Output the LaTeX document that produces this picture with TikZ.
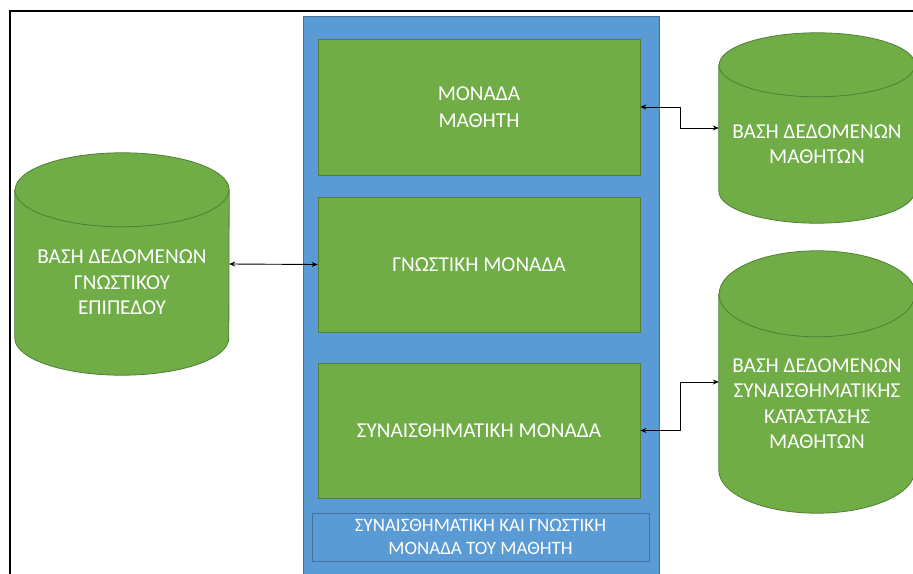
\documentclass[tikz,border=0pt]{standalone}
\usepackage{fontspec}
\setmainfont{Carlito}
\usepackage{xcolor}
\usepackage{tikz}
\usetikzlibrary{shapes}
\usetikzlibrary{arrows.meta}
\usetikzlibrary{positioning}

\definecolor{greenfill}{RGB}{112,173,71}
\definecolor{greenline}{RGB}{80,126,50}
\definecolor{bluefill}{RGB}{91,155,213}
\definecolor{blueline}{RGB}{65,113,156}

% database can drawn round a named (empty) node: name, x radius, y radius
\newcommand{\dbcan}[3]{%
  \filldraw[canline] ([yshift=-#3bp]#1.north west) -- ([yshift=#3bp]#1.south west)
    arc[start angle=180,end angle=360,x radius=#2bp,y radius=#3bp]
    -- ([yshift=-#3bp]#1.north east)
    arc[start angle=0,end angle=180,x radius=#2bp,y radius=#3bp] -- cycle;
  \draw[canline] ([yshift=-#3bp]#1.north west)
    arc[start angle=180,end angle=360,x radius=#2bp,y radius=#3bp];}

\begin{document}
\begin{tikzpicture}[
	x=1bp, y=-1bp,
	font=\fontsize{21.3}{27}\selectfont
]
\tikzset{
    mybox/.style = {rectangle, draw=greenline, fill=greenfill, text=white, align=center, inner sep=0pt, line width=0.8bp},
    mycan/.style = {rectangle, inner sep=0pt},
    canline/.style = {draw=greenline, fill=greenfill, line width=0.8bp},
    cantext/.style = {text=white, align=center, inner sep=0pt, font=\fontsize{21.3}{25.5}\selectfont},
    myarrow/.style = {{Stealth[length=6bp,width=5bp]}-{Stealth[length=6bp,width=5bp]}, line width=0.9bp, black}
}
\useasboundingbox (0,0) rectangle (913,574);
\clip (0,0) rectangle (913,574);
% frame
\draw[line width=2.5bp] (10,580) -- (10,11) -- (920,11);
% panel
\node[rectangle, draw=blueline, fill=bluefill, minimum width=356bp, minimum height=570bp, anchor=north west] (panel) at (303,16) {};
\node[mybox, minimum width=322bp, minimum height=136bp] (mathitis) at (479,107) {ΜΟΝΑΔΑ\\ΜΑΘΗΤΗ};
\node[mybox, minimum width=322bp, minimum height=135bp] (gnostiki) at (479,264.5) {ΓΝΩΣΤΙΚΗ ΜΟΝΑΔΑ};
\node[mybox, minimum width=322bp, minimum height=135bp] (synais) at (479,430.5) {ΣΥΝΑΙΣΘΗΜΑΤΙΚΗ ΜΟΝΑΔΑ};
\node[rectangle, draw=blueline, fill=bluefill, text=white, align=center, minimum width=337bp, minimum height=48bp, font=\fontsize{19}{22.3}\selectfont] (titlos) at (480.5,537) {ΣΥΝΑΙΣΘΗΜΑΤΙΚΗ ΚΑΙ ΓΝΩΣΤΙΚΗ\\ΜΟΝΑΔΑ ΤΟΥ ΜΑΘΗΤΗ};
% databases
\node[mycan, minimum width=214bp, minimum height=222bp] (vasiGnost) at (122,264) {};
\node[mycan, minimum width=196bp, minimum height=190bp] (vasiMath) at (817,128) {};
\node[mycan, minimum width=196bp, minimum height=262bp] (vasiSyn) at (817,382) {};
\dbcan{vasiGnost}{107}{37}
\dbcan{vasiMath}{98}{32}
\dbcan{vasiSyn}{98}{43}
\node[cantext] (vasiGnostTxt) at ([yshift=-18.5bp]vasiGnost.center) {ΒΑΣΗ ΔΕΔΟΜΕΝΩΝ\\ΓΝΩΣΤΙΚΟΥ\\ΕΠΙΠΕΔΟΥ};
\node[cantext] (vasiMathTxt) at ([yshift=-16bp]vasiMath.center) {ΒΑΣΗ ΔΕΔΟΜΕΝΩΝ\\ΜΑΘΗΤΩΝ};
\node[cantext] (vasiSynTxt) at ([yshift=-21.5bp]vasiSyn.center) {ΒΑΣΗ ΔΕΔΟΜΕΝΩΝ\\ΣΥΝΑΙΣΘΗΜΑΤΙΚΗΣ\\ΚΑΤΑΣΤΑΣΗΣ\\ΜΑΘΗΤΩΝ};
% links
\draw[myarrow] (vasiGnost.east) -- (gnostiki.west);
\draw[myarrow] (mathitis.east) -- ++(40,0) |- (vasiMath.west);
\draw[myarrow] (synais.east) -- ++(40,0) |- (vasiSyn.west);
\end{tikzpicture}
\end{document}
